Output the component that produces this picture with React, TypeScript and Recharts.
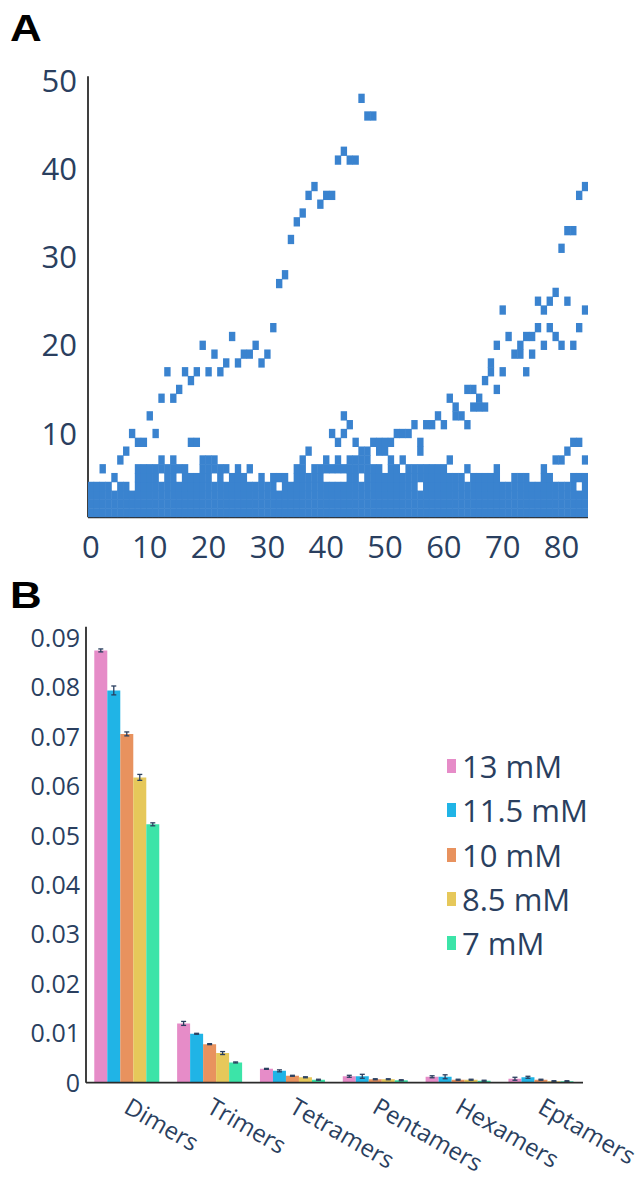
import React from 'react';
import { ScatterChart, Scatter, XAxis, YAxis, BarChart, Bar, ErrorBar } from 'recharts';

const FONT = '"Open Sans", "Liberation Sans", Arial, sans-serif';
const TEXT = '#2a3f5f';
const AXIS = '#2b2b2b';
const CELL = '#3a83cf';

// ---------- Panel A data ----------
const xTicksA = [0, 10, 20, 30, 40, 50, 60, 70, 80];
const yTicksA = [10, 20, 30, 40, 50];
const columnCount = 85; // columns 0..84
const bandLevels = [1, 2, 3, 4];
const bandHoles: [number, number][] = [[4, 4], [7, 4], [32, 4], [56, 4], [83, 4]];
const lowCells: [number, number][] = [
  [2, 6], [4, 5], [5, 7], [6, 8], [7, 10], [8, 5], [8, 6], [8, 9], [9, 5], [9, 6], [9, 9],
  [10, 5], [10, 6], [11, 5], [11, 6], [11, 10], [12, 6], [12, 7], [13, 5], [13, 6],
  [14, 5], [14, 6], [14, 7], [15, 6], [16, 5], [16, 6], [17, 5], [17, 9], [18, 5], [18, 9],
  [19, 5], [19, 6], [19, 7], [20, 5], [20, 6], [20, 7], [21, 6], [21, 7], [22, 5], [22, 6],
  [23, 6], [24, 5], [25, 5], [25, 6], [26, 5], [27, 6], [29, 5], [31, 5], [32, 5], [33, 5],
  [35, 5], [35, 6], [36, 5], [36, 6], [36, 7], [37, 5], [37, 8], [38, 5], [38, 6], [39, 5], [39, 6],
  [40, 6], [40, 7], [41, 6], [41, 10], [42, 6], [42, 7], [42, 9], [43, 6], [43, 10], [43, 12],
  [44, 5], [44, 6], [44, 7], [44, 11], [45, 5], [45, 6], [45, 7], [45, 9], [46, 6], [46, 7], [46, 8],
  [47, 5], [47, 6], [47, 7], [47, 8], [48, 5], [48, 6], [48, 9], [49, 5], [49, 6], [49, 8], [49, 9],
  [50, 5], [50, 8], [50, 9], [51, 5], [51, 6], [51, 7], [51, 9], [52, 5], [52, 6], [52, 10],
  [53, 5], [53, 7], [53, 10], [54, 5], [54, 6], [54, 10], [55, 5], [55, 6], [55, 11],
  [56, 5], [56, 6], [56, 8], [56, 9], [57, 5], [57, 6], [57, 11], [58, 5], [58, 6], [58, 11],
  [59, 5], [59, 6], [59, 12], [60, 5], [60, 6], [60, 11], [61, 5], [61, 7], [62, 5], [62, 12],
  [63, 5], [63, 12], [64, 6], [64, 11], [65, 5], [66, 5], [67, 5], [68, 5], [69, 5], [69, 6],
  [72, 5], [73, 5], [74, 5], [77, 5], [77, 6], [78, 5], [79, 7], [80, 7], [81, 8],
  [82, 5], [82, 9], [83, 5], [83, 9], [84, 5], [84, 7],
];
const arcLeft: [number, number][] = [
  [10, 12], [12, 14], [13, 17], [14, 14], [15, 15], [16, 17], [17, 16], [18, 17], [19, 20],
  [20, 17], [21, 19], [22, 17], [23, 18], [24, 21], [25, 18], [26, 19], [27, 19], [28, 20],
  [29, 18], [30, 19], [31, 22], [32, 27], [33, 28], [34, 32], [35, 34], [36, 35], [37, 37],
  [38, 38], [39, 36], [40, 37], [41, 37], [42, 41], [43, 42], [44, 41], [45, 41], [46, 48],
  [47, 46], [48, 46],
];
const arcRight: [number, number][] = [
  [61, 14], [62, 13], [64, 15], [65, 13], [65, 15], [66, 13], [66, 14], [67, 13], [67, 16],
  [68, 17], [68, 18], [69, 15], [69, 20], [70, 17], [70, 24], [71, 21], [72, 19], [73, 19],
  [73, 20], [74, 17], [74, 21], [75, 19], [75, 21], [76, 22], [76, 25], [77, 20], [77, 24],
  [78, 22], [78, 25], [79, 21], [79, 26], [80, 20], [80, 31], [81, 25], [81, 33], [82, 20],
  [82, 33], [83, 22], [83, 37], [84, 24], [84, 38],
];

// ---------- Panel B data ----------
const categories = ['Dimers', 'Trimers', 'Tetramers', 'Pentamers', 'Hexamers', 'Eptamers'];
const seriesNames = ['13 mM', '11.5 mM', '10 mM', '8.5 mM', '7 mM'];
const seriesColors = ['#e68cc8', '#20b4e6', '#e8925e', '#e6c85a', '#3ce4a8'];
const val13 = [0.0875, 0.0120, 0.0028, 0.0013, 0.0012, 0.0008];
const val115 = [0.0794, 0.0099, 0.0024, 0.0013, 0.0012, 0.0011];
const val10 = [0.0706, 0.0078, 0.0014, 0.0007, 0.0006, 0.0006];
const val85 = [0.0618, 0.0060, 0.0011, 0.0007, 0.0006, 0.0003];
const val7 = [0.0523, 0.0041, 0.0006, 0.0005, 0.0004, 0.0003];
const err13 = [0.0003, 0.0004, 0.0001, 0.0002, 0.0002, 0.0003];
const err115 = [0.0009, 0.0001, 0.0002, 0.0004, 0.0004, 0.0002];
const err10 = [0.0004, 0.0001, 0.0001, 0.0001, 0.0001, 0.0001];
const err85 = [0.0006, 0.0003, 0.0001, 0.0001, 0.0001, 0.0001];
const err7 = [0.0003, 0.0001, 0.0001, 0.0001, 0.0001, 0.0001];
const yTicksB = [0, 0.01, 0.02, 0.03, 0.04, 0.05, 0.06, 0.07, 0.08, 0.09];

// ---------- layout ----------
const A_W = 641, A_H = 585;
const A_XAXIS_H = 62;
const A_LEFT = 88, A_RIGHT = 588, A_TOP = 76.3, A_BOTTOM = 517.3;
const A_XDOM: [number, number] = [-0.5, 84.5];
const A_YDOM: [number, number] = [0.5, 50.5];
const CW = (A_RIGHT - A_LEFT) / (A_XDOM[1] - A_XDOM[0]);
const CH = (A_BOTTOM - A_TOP) / (A_YDOM[1] - A_YDOM[0]);

const B_TOP_PX = 580;
const B_W = 641, B_H = 598;

const holeKey = new Set(bandHoles.map(([x, y]) => `${x}_${y}`));
const bandCells: { x: number; y: number }[] = [];
for (let c = 0; c < columnCount; c++) {
  for (const lv of bandLevels) {
    if (!holeKey.has(`${c}_${lv}`)) bandCells.push({ x: c, y: lv });
  }
}
const allCells = [
  ...bandCells,
  ...lowCells.map(([x, y]) => ({ x, y })),
  ...arcLeft.map(([x, y]) => ({ x, y })),
  ...arcRight.map(([x, y]) => ({ x, y })),
];

const barData = categories.map((name, i) => ({
  name,
  s0: val13[i], e0: err13[i],
  s1: val115[i], e1: err115[i],
  s2: val10[i], e2: err10[i],
  s3: val85[i], e3: err85[i],
  s4: val7[i], e4: err7[i],
}));

const CellShape = (props: any) => {
  const { cx, cy } = props;
  if (cx == null || cy == null) return <g />;
  return (
    <rect x={cx - CW / 2 - 0.25} y={cy - CH / 2 - 0.25} width={CW + 0.5} height={CH + 0.5} fill={CELL} />
  );
};

const RotTick = (props: any) => {
  const { x, y, payload } = props;
  const x0 = x - 5;
  const y0 = y + 29;
  return (
    <text x={x0} y={y0} transform={`rotate(30 ${x0} ${y0})`} textAnchor="start"
      fill={TEXT} fontSize={24} fontFamily={FONT}>
      {payload.value}
    </text>
  );
};

const PanelLabel = ({ text, top }: { text: string; top: number }) => (
  <div style={{
    position: 'absolute', left: 10, top, fontFamily: '"Liberation Sans", Arial, sans-serif',
    fontWeight: 700, fontSize: 36, lineHeight: '36px', color: '#000',
    transform: 'scaleX(1.22)', transformOrigin: 'left top',
  }}>{text}</div>
);

export default function App() {
  return (
    <div style={{ position: 'fixed', left: 0, top: 0, width: 641, height: 1178, background: '#fff', overflow: 'hidden' }}>
      <div style={{ position: 'absolute', left: 0, top: 0 }}>
        <ScatterChart width={A_W} height={A_H}
          margin={{ top: A_TOP, right: A_W - A_RIGHT, bottom: A_H - A_BOTTOM - A_XAXIS_H, left: 0 }}>
          <XAxis type="number" dataKey="x" domain={A_XDOM} ticks={xTicksA} allowDataOverflow
            height={A_XAXIS_H} tickLine={false} tickSize={0} tickMargin={19} interval={0}
            axisLine={{ stroke: AXIS, strokeWidth: 1.8 }}
            tick={{ fill: TEXT, fontSize: 31, fontFamily: FONT }} />
          <YAxis type="number" dataKey="y" domain={A_YDOM} ticks={yTicksA} allowDataOverflow
            width={A_LEFT} tickLine={false} tickSize={0} tickMargin={11} interval={0}
            axisLine={{ stroke: AXIS, strokeWidth: 1.8 }}
            tick={{ fill: TEXT, fontSize: 31, fontFamily: FONT }} />
          <Scatter data={allCells} shape={CellShape} isAnimationActive={false} />
        </ScatterChart>
      </div>

      <div style={{ position: 'absolute', left: 0, top: B_TOP_PX }}>
        <BarChart width={B_W} height={B_H} data={barData} barCategoryGap="10%" barGap={0}
          margin={{ top: 46.7, right: 58, bottom: 15.3, left: 0 }}>
          <XAxis dataKey="name" height={80} tickLine={false} tickSize={0} tickMargin={0}
            interval={0} axisLine={{ stroke: AXIS, strokeWidth: 1.8 }} tick={<RotTick />} />
          <YAxis type="number" domain={[0, 0.0923]} ticks={yTicksB} allowDataOverflow
            width={86} tickLine={false} tickSize={0} tickMargin={6} interval={0}
            axisLine={{ stroke: AXIS, strokeWidth: 1.8 }}
            tickFormatter={(v: number) => (v === 0 ? '0' : v.toFixed(2))}
            tick={{ fill: TEXT, fontSize: 25, fontFamily: FONT }} />
          {seriesNames.map((nm, k) => (
            <Bar key={nm} dataKey={`s${k}`} name={nm} fill={seriesColors[k]} isAnimationActive={false}>
              <ErrorBar dataKey={`e${k}`} width={2.5} stroke={TEXT} strokeWidth={1.3} direction="y" />
            </Bar>
          ))}
        </BarChart>
      </div>

      <PanelLabel text="A" top={11} />
      <PanelLabel text="B" top={578} />

      <div style={{ position: 'absolute', left: 447, top: 744 }}>
        {seriesNames.map((nm, k) => (
          <div key={nm} style={{ display: 'flex', alignItems: 'center', height: 44.3 }}>
            <div style={{ width: 9, height: 14, background: seriesColors[k] }} />
            <span style={{ marginLeft: 6, fontFamily: FONT, fontSize: 31, color: TEXT, lineHeight: '44.3px', whiteSpace: 'nowrap' }}>{nm}</span>
          </div>
        ))}
      </div>
    </div>
  );
}
